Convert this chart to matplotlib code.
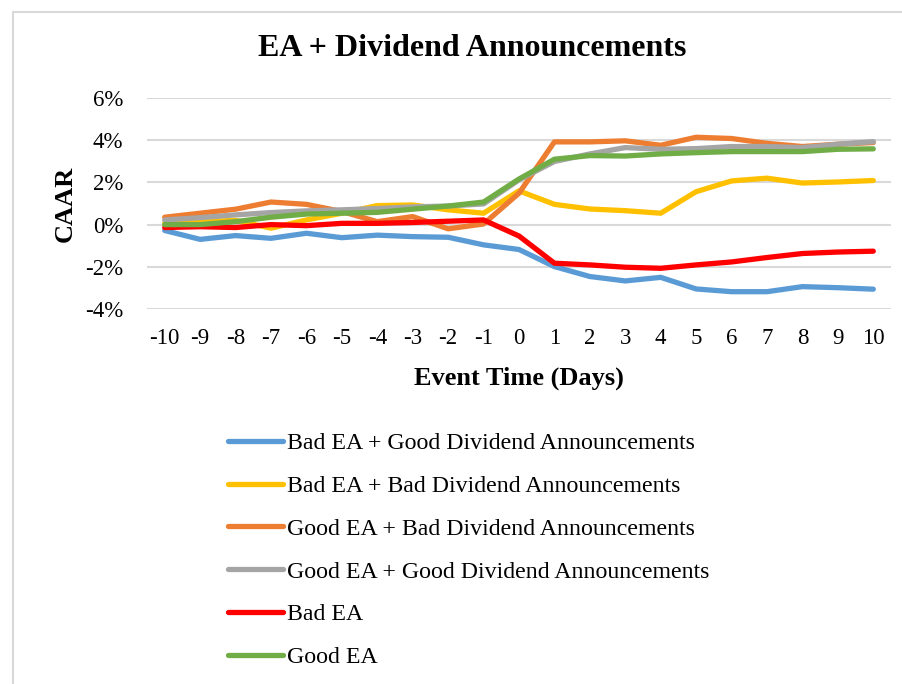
import matplotlib
matplotlib.use("Agg")
import matplotlib.pyplot as plt
from matplotlib.patches import Rectangle
from matplotlib.ticker import FuncFormatter

plt.rcParams["font.family"] = ["Liberation Serif", "DejaVu Serif"]
plt.rcParams["axes.unicode_minus"] = False

days = list(range(-10, 11))

# CAAR in percent
bad_ea_good_div = [-0.28, -0.70, -0.52, -0.65, -0.41, -0.62, -0.50, -0.57, -0.60, -0.96, -1.18,
                   -1.99, -2.46, -2.67, -2.50, -3.05, -3.18, -3.18, -2.94, -2.99, -3.06]
bad_ea_bad_div = [0.06, 0.14, 0.20, -0.17, 0.22, 0.54, 0.90, 0.93, 0.70, 0.54, 1.60,
                  0.96, 0.74, 0.66, 0.54, 1.56, 2.07, 2.20, 1.97, 2.02, 2.09]
good_ea_bad_div = [0.35, 0.54, 0.73, 1.07, 0.96, 0.62, 0.14, 0.38, -0.20, 0.03, 1.49,
                   3.92, 3.92, 3.97, 3.76, 4.14, 4.08, 3.85, 3.70, 3.81, 3.89]
good_ea_good_div = [0.22, 0.33, 0.46, 0.57, 0.65, 0.70, 0.76, 0.84, 0.88, 0.98, 2.12,
                    2.99, 3.35, 3.65, 3.57, 3.60, 3.70, 3.70, 3.65, 3.81, 3.93]
bad_ea = [-0.14, -0.10, -0.14, 0.00, -0.05, 0.06, 0.06, 0.10, 0.16, 0.22, -0.54,
          -1.83, -1.91, -2.02, -2.07, -1.91, -1.77, -1.56, -1.37, -1.30, -1.26]
good_ea = [0.00, 0.00, 0.14, 0.35, 0.50, 0.54, 0.58, 0.73, 0.88, 1.07, 2.16,
           3.10, 3.27, 3.25, 3.35, 3.41, 3.46, 3.46, 3.46, 3.57, 3.59]

series = [
    ("Bad EA + Good Dividend Announcements", bad_ea_good_div, "#5B9BD5"),
    ("Bad EA + Bad Dividend Announcements", bad_ea_bad_div, "#FFC000"),
    ("Good EA + Bad Dividend Announcements", good_ea_bad_div, "#ED7D31"),
    ("Good EA + Good Dividend Announcements", good_ea_good_div, "#A5A5A5"),
    ("Bad EA", bad_ea, "#FF0000"),
    ("Good EA", good_ea, "#70AD47"),
]

fig = plt.figure(figsize=(9.02, 6.84), dpi=100)
fig.patches.append(Rectangle((13 / 902, -0.1), 1.2, 1 - 12 / 684 + 0.1,
                             transform=fig.transFigure, fill=False,
                             edgecolor="#d9d9d9", lw=1.5))

ax = fig.add_axes([147 / 902, 1 - 309 / 684, 744 / 902, 211 / 684])
for label, vals, color in series:
    ax.plot(days, vals, color=color, lw=3.8, label=label,
            solid_capstyle="round", solid_joinstyle="round")

ax.set_xlim(-10.5, 10.5)
ax.set_ylim(-4, 6)
ax.set_xticks(days)
ax.set_yticks([-4, -2, 0, 2, 4, 6])
ax.yaxis.set_major_formatter(FuncFormatter(lambda v, _: f"{v:.0f}%"))
ax.grid(axis="y", color="#d9d9d9", lw=1.5)
ax.set_axisbelow(True)
for s in ax.spines.values():
    s.set_visible(False)
ax.tick_params(length=0, labelsize=16.5)
ax.tick_params(axis="x", pad=14)
ax.tick_params(axis="y", pad=17)

fig.text(472 / 902, 1 - 48 / 684, "EA + Dividend Announcements",
         fontsize=23, fontweight="bold", ha="center", va="center")
ax.set_xlabel("Event Time (Days)", fontsize=19, fontweight="bold", labelpad=12)
ax.set_ylabel("CAAR", fontsize=19, fontweight="bold", labelpad=6)

fig.legend(loc="upper left", bbox_to_anchor=(218 / 902, 1 - 423 / 684),
           frameon=False, fontsize=17.2, handlelength=2.3, handletextpad=0.2,
           labelspacing=0.88, borderaxespad=0)

fig.savefig("out.png", dpi=100)
